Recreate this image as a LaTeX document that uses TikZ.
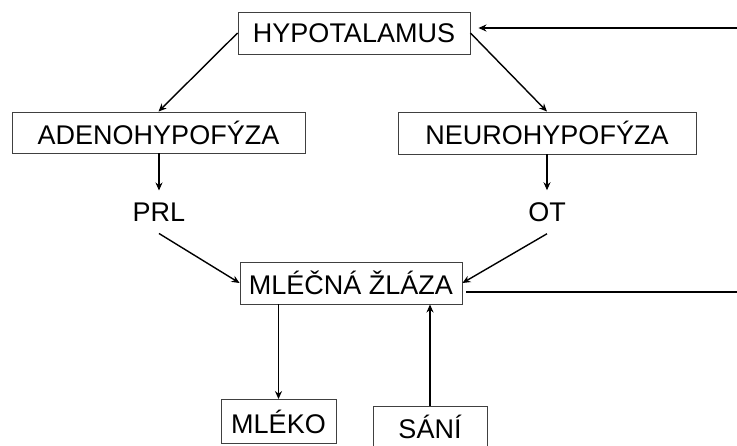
\documentclass[tikz,border=0pt]{standalone}
\usepackage{fontspec}
\setmainfont{Liberation Sans}
\usetikzlibrary{arrows.meta}
\begin{document}
\begin{tikzpicture}[x = 1pt, y = -1pt,
    box/.style = {draw=black!75, line width=0.9pt, inner sep=0pt, font=\fontsize{27}{31}\selectfont},
    label/.style = {inner sep=12pt, font=\fontsize{27}{31}\selectfont},
    link/.style = {line width=1.4pt, -{Stealth[length=8pt, width=7pt]}}]
    \useasboundingbox (0,0) rectangle (737,445);
    \node[box, minimum width=232pt, minimum height=42pt] (hypo) at (354,33) {HYPOTALAMUS};
    \node[box, minimum width=293pt, minimum height=41pt] (adeno) at (158.5,132.5) {ADENOHYPOFÝZA};
    \node[box, minimum width=298pt, minimum height=42pt] (neuro) at (547,133) {NEUROHYPOFÝZA};
    \node[label] (prl) at (159,212) {PRL};
    \node[label] (ot) at (547,212) {OT};
    \node[box, minimum width=222pt, minimum height=42pt] (gland) at (351,283) {MLÉČNÁ ŽLÁZA};
    \node[box, minimum width=115pt, minimum height=44pt] (milk) at (278.5,421.5) {MLÉKO};
    \node[box, minimum width=114pt, minimum height=42pt] (suck) at (430,427) {SÁNÍ};
    \coordinate (looptop) at (737,28);
    \coordinate (loopbot) at (737,292);
    \begin{scope}[link]
    \draw (hypo.west) -- (adeno.north);
    \draw (hypo.east) -- (neuro.north);
    \draw (adeno.south -| prl) -- (prl.north);
    \draw (neuro.south -| ot) -- (ot.north);
    \draw (prl.south) -- (gland.west);
    \draw (ot.south) -- (gland.east);
    \draw (gland.south -| milk.north) -- (milk.north);
    \draw (suck.north) -- (suck.north |- gland.south);
    \draw[shorten >=8pt] (looptop) -- (looptop -| hypo.east);
    \end{scope}
    \draw[line width=1.4pt, shorten <=4pt] (gland.east |- loopbot) -- (loopbot);
\end{tikzpicture}
\end{document}
